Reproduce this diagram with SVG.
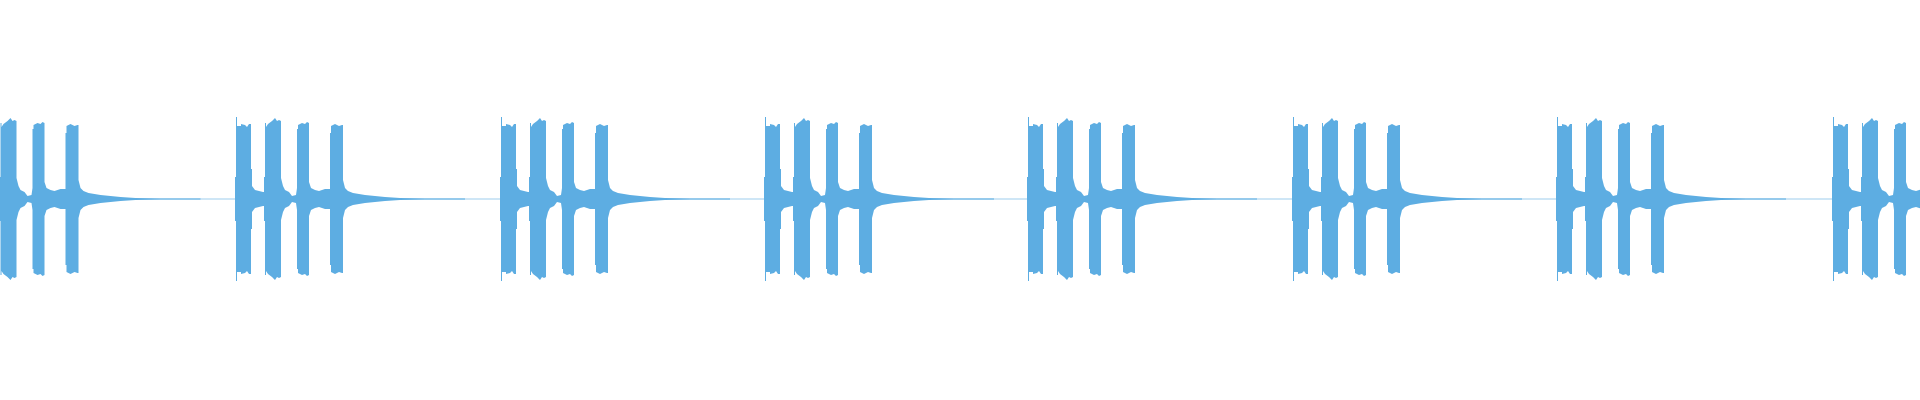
<svg xmlns="http://www.w3.org/2000/svg" width="1920" height="400" viewBox="0 0 1920 400">
<style>.w{fill:#5dade2}</style>
<defs>
<path id="g" class="w" d="M0,199 L0,177 1,177 1,117 2,117 2,126 6,126 6,124 10,125 12,127 14,124 16,124 16,169 17,169 17,186 20,190 24,191 28,192 29,192 29,177 30,177 30,123 31,123 31,127 33,124 37,121 40,118 42,121 44,120 46,121 46,178 48,186 50,190 54,192 57,196 61,195 62,188 62,129 63,129 63,125 67,123 70,124 72,122 74,123 74,182 76,188 80,190 84,191 90,189 95,189 95,133 96,133 96,126 100,124 104,126 107,125 108,125 108,180 110,188 113,191 118,193 124,194 130,195 140,196 150,197 165,198 190,198.5 230,198.5 230,199.5 190,199.5 165,200 150,201 140,202 130,203 124,204 118,205 113,207 110,210 108,218 108,273 107,273 104,272 100,274 96,272 96,265 95,265 95,209 90,209 84,207 80,208 76,210 74,216 74,275 72,276 70,274 67,275 63,273 63,269 62,269 62,210 61,203 57,202 54,206 50,208 48,212 46,220 46,277 44,278 42,277 40,280 37,277 33,274 31,271 31,275 30,275 30,221 29,221 29,206 28,206 24,207 20,208 17,212 17,229 16,229 16,274 14,274 12,271 10,273 6,274 6,272 2,272 2,281 1,281 1,221 0,221 Z"/>
</defs>
<rect width="1920" height="400" fill="#fff"/>
<rect class="w" x="0" y="198.5" width="1920" height="1" opacity="0.6"/>
<g id="waveform">
<use href="#g" x="-29.5"/>
<use href="#g" x="235"/>
<use href="#g" x="500"/>
<use href="#g" x="764"/>
<use href="#g" x="1027"/>
<use href="#g" x="1292"/>
<use href="#g" x="1556"/>
<use href="#g" x="1832"/>
</g>
</svg>
